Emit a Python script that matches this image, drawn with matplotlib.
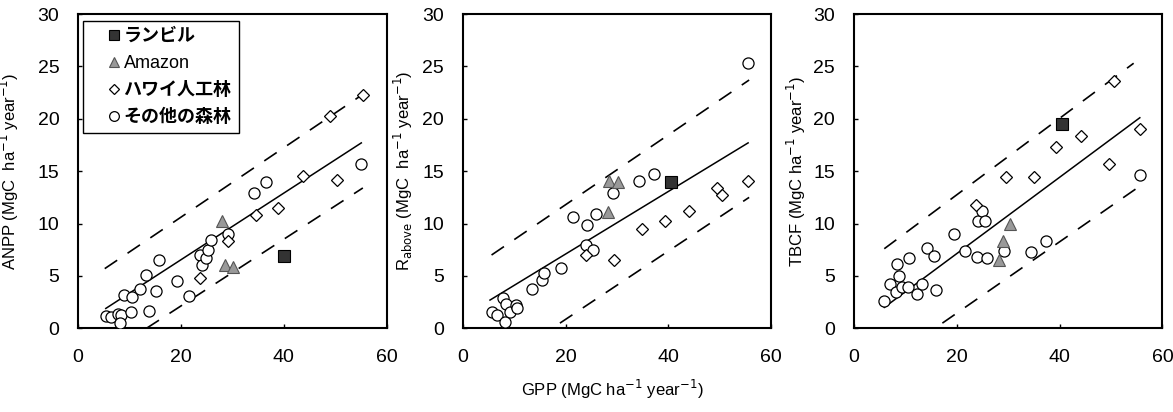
import matplotlib
matplotlib.use("Agg")
import matplotlib.pyplot as plt
from matplotlib.lines import Line2D

plt.rcParams['font.family'] = ['Liberation Sans', 'Noto Sans CJK JP']

# --- ANPP panel ---
anpp_circ_x = [5.5, 6.5, 7.7, 8.4, 8.2, 9.0, 10.5, 10.3, 12.0, 13.3, 13.9, 15.2,
               15.7, 19.2, 21.6, 23.7, 24.2, 24.8, 25.2, 25.9, 29.2, 34.2, 36.6, 55.1]
anpp_circ_y = [1.15, 1.1, 1.35, 1.3, 0.5, 3.2, 3.0, 1.6, 3.8, 5.1, 1.7, 3.6,
               6.5, 4.5, 3.1, 7.0, 6.0, 6.7, 7.5, 8.4, 9.0, 12.9, 14.0, 15.7]
anpp_dia_x = [23.7, 29.2, 34.7, 38.9, 43.8, 49.0, 50.3, 55.4]
anpp_dia_y = [4.8, 8.3, 10.8, 11.5, 14.5, 20.3, 14.2, 22.3]
anpp_tri_x = [28.1, 28.6, 30.2]
anpp_tri_y = [10.2, 6.0, 5.9]
anpp_sq_x = [40.0]
anpp_sq_y = [6.9]
anpp_fit = ([5.4, 55.1], [1.9, 17.7])
anpp_up = ([5.2, 55.6], [5.7, 22.4])
anpp_lo = ([13.3, 55.4], [0.0, 13.4])

# --- R_above panel ---
rab_circ_x = [5.6, 6.7, 7.9, 8.4, 8.2, 9.2, 10.4, 10.5, 13.4, 15.5, 15.8, 19.2,
              21.5, 24.1, 24.0, 25.4, 26.0, 29.3, 34.3, 37.2, 55.5]
rab_circ_y = [1.6, 1.3, 2.9, 2.3, 0.6, 1.6, 2.2, 1.9, 3.8, 4.6, 5.3, 5.8,
              10.6, 9.9, 8.0, 7.5, 10.9, 12.9, 14.1, 14.7, 25.3]
rab_dia_x = [23.9, 29.4, 34.9, 39.3, 44.1, 49.4, 50.4, 55.5]
rab_dia_y = [7.0, 6.5, 9.5, 10.2, 11.2, 13.4, 12.7, 14.1]
rab_tri_x = [28.5, 30.2, 28.2]
rab_tri_y = [14.1, 14.0, 11.1]
rab_sq_x = [40.5]
rab_sq_y = [14.0]
rab_fit = ([5.3, 55.5], [2.7, 17.7])
rab_up = ([5.6, 55.7], [7.0, 23.7])
rab_lo = ([18.9, 55.7], [0.5, 12.5])

# --- TBCF panel ---
tbcf_circ_x = [5.9, 7.0, 8.1, 8.3, 8.8, 9.4, 10.6, 10.8, 12.2, 13.3, 14.2, 15.5,
               15.9, 19.4, 21.6, 23.9, 24.2, 25.0, 25.5, 25.9, 29.2, 34.5, 37.3, 55.6]
tbcf_circ_y = [2.6, 4.2, 3.5, 6.1, 5.0, 3.9, 3.9, 6.7, 3.3, 4.2, 7.7, 6.9,
               3.7, 9.0, 7.4, 6.8, 10.2, 11.2, 10.2, 6.7, 7.4, 7.3, 8.3, 14.6]
tbcf_dia_x = [23.8, 29.5, 35.0, 39.3, 44.2, 49.6, 50.6, 55.7]
tbcf_dia_y = [11.8, 14.4, 14.4, 17.3, 18.4, 15.7, 23.6, 19.0]
tbcf_tri_x = [28.3, 29.0, 30.4]
tbcf_tri_y = [6.5, 8.3, 10.0]
tbcf_sq_x = [40.5]
tbcf_sq_y = [19.5]
tbcf_fit = ([5.9, 55.6], [2.0, 20.1])
tbcf_up = ([5.9, 54.4], [7.6, 25.3])
tbcf_lo = ([17.2, 54.8], [0.5, 13.3])

legend_labels = ["ランビル", "Amazon", "ハワイ人工林", "その他の森林"]
ylabels = ["ANPP (MgC  ha$^{-1}$ year$^{-1}$)",
           "R$_{\\mathrm{above}}$ (MgC  ha$^{-1}$ year$^{-1}$)",
           "TBCF (MgC ha$^{-1}$ year$^{-1}$)"]

panels = [
    (anpp_circ_x, anpp_circ_y, anpp_dia_x, anpp_dia_y, anpp_tri_x, anpp_tri_y,
     anpp_sq_x, anpp_sq_y, anpp_fit, anpp_up, anpp_lo),
    (rab_circ_x, rab_circ_y, rab_dia_x, rab_dia_y, rab_tri_x, rab_tri_y,
     rab_sq_x, rab_sq_y, rab_fit, rab_up, rab_lo),
    (tbcf_circ_x, tbcf_circ_y, tbcf_dia_x, tbcf_dia_y, tbcf_tri_x, tbcf_tri_y,
     tbcf_sq_x, tbcf_sq_y, tbcf_fit, tbcf_up, tbcf_lo),
]

fig = plt.figure(figsize=(11.73, 4.12), dpi=100)
lefts = [0.0665, 0.3945, 0.728]
label_x = [-0.184, -0.155, -0.149]

sq_style = dict(marker='s', ms=9, mfc='#333333', mec='black', mew=0.8, ls='none')
tri_style = dict(marker='^', ms=8.5, mfc='#999999', mec='#555555', mew=0.8, ls='none')
dia_style = dict(marker='D', ms=6, mfc='white', mec='black', mew=0.9, ls='none')
circ_style = dict(marker='o', ms=8, mfc='white', mec='black', mew=0.9, ls='none')
dash = (0, (9, 7.5))

for i, p in enumerate(panels):
    cx, cy, dx, dy, tx, ty, sx, sy, fit, up, lo = p
    ax = fig.add_axes([lefts[i], 0.203, 0.263, 0.763])
    ax.plot(fit[0], fit[1], color='black', lw=1.1, zorder=2)
    ax.plot(up[0], up[1], color='black', lw=1.2, ls=dash, zorder=2)
    ax.plot(lo[0], lo[1], color='black', lw=1.2, ls=dash, zorder=2)
    ax.plot(cx, cy, zorder=3, **circ_style)
    ax.plot(dx, dy, zorder=3, **dia_style)
    ax.plot(tx, ty, zorder=4, **tri_style)
    ax.plot(sx, sy, zorder=4, **sq_style)
    ax.set_xlim(0, 60)
    ax.set_ylim(0, 30)
    ax.set_xticks([0, 20, 40, 60])
    ax.set_yticks([0, 5, 10, 15, 20, 25, 30])
    ax.tick_params(direction='in', length=3, width=1, labelsize=14)
    ax.tick_params(axis='y', pad=13.5)
    ax.tick_params(axis='x', pad=15)
    for s in ax.spines.values():
        s.set_linewidth(1.5)
    ax.set_ylabel(ylabels[i], fontsize=12)
    ax.yaxis.set_label_coords(label_x[i], 0.5)

    if i == 0:
        handles = [Line2D([], [], **sq_style), Line2D([], [], **tri_style),
                   Line2D([], [], **dia_style), Line2D([], [], **circ_style)]
        handles[0].set_markersize(6.5)
        handles[1].set_markersize(6.5)
        handles[2].set_markersize(5)
        handles[3].set_markersize(7)
        leg = ax.legend(handles, legend_labels, loc='upper left',
                        bbox_to_anchor=(0.016, 0.978), borderaxespad=0,
                        fontsize=13, handlelength=2.6, handletextpad=-0.75,
                        labelspacing=0.55, borderpad=0.4, fancybox=False,
                        framealpha=1, edgecolor='black')
        leg.get_frame().set_linewidth(1.0)
        for t in leg.get_texts():
            if t.get_text() != "Amazon":
                t.set_fontweight('bold')

fig.text(0.522, 0.055, "GPP (MgC ha$^{-1}$ year$^{-1}$)", ha='center', va='center',
         fontsize=12)

fig.savefig("out.png", dpi=100)
